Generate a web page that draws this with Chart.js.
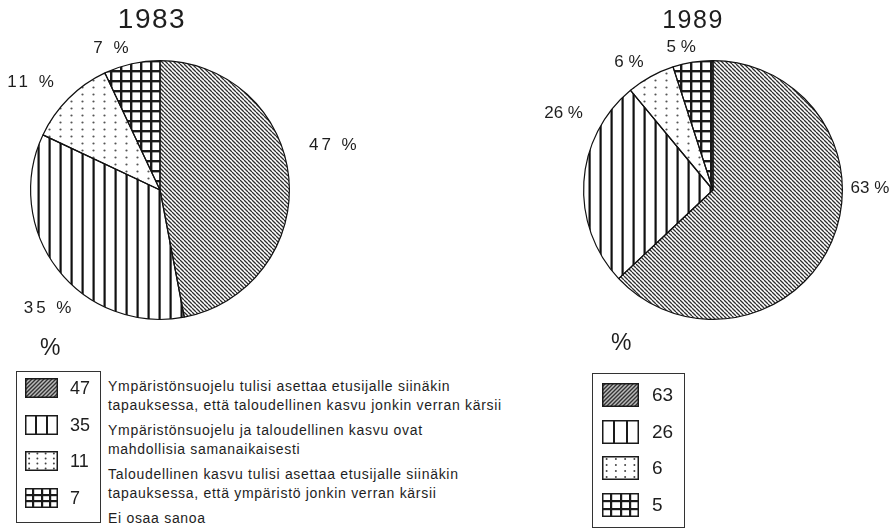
<!DOCTYPE html>
<html>
<head>
<meta charset="utf-8">
<script src="https://cdn.jsdelivr.net/npm/chart.js@4.4.1/dist/chart.umd.min.js"></script>
<style>
  body { margin: 0; background: #fff; width: 896px; height: 528px; position: relative; overflow: hidden;
         font-family: "Liberation Sans", Arial, sans-serif; color: #1e1e1e; }
  canvas { position: absolute; }
  .pct { position: absolute; font-size: 23px; line-height: 23px; }
  .box { position: absolute; border: 1px solid #333; box-sizing: border-box; }
  .val { position: absolute; }
  .desc { position: absolute; left: 108px; top: 377px; font-size: 14px; letter-spacing: 0.7px; line-height: 19px; }
  .desc div { margin-bottom: 6px; white-space: pre; }
</style>
</head>
<body>
<canvas id="pie1983" width="370" height="340" style="left:0;top:0"></canvas>
<canvas id="pie1989" width="356" height="340" style="left:540px;top:0"></canvas>

<div class="pct" style="left:40px;top:336px">%</div>
<div class="pct" style="left:611px;top:331px">%</div>
<div class="box" id="legend1983" style="left:16px;top:371px;width:85px;height:152px"></div>
<div class="box" id="legend1989" style="left:592px;top:373px;width:93px;height:155px"></div>
<div class="desc" id="desc"></div>

<script>
const years = ["1983", "1989"];
const categories = [
  "Ympäristönsuojelu tulisi asettaa etusijalle siinäkin\ntapauksessa, että taloudellinen kasvu jonkin verran kärsii",
  "Ympäristönsuojelu ja taloudellinen kasvu ovat\nmahdollisia samanaikaisesti",
  "Taloudellinen kasvu tulisi asettaa etusijalle siinäkin\ntapauksessa, että ympäristö jonkin verran kärsii",
  "Ei osaa sanoa"
];
const values1983 = [47, 35, 11, 7];
const values1989 = [63, 26, 6, 5];

// small repeating tiles for the hatch fills
function tile(w, h, draw) {
  const c = document.createElement("canvas");
  c.width = w; c.height = h;
  draw(c.getContext("2d"), w, h);
  return c;
}
const tiles = [
  tile(4, 4, (g, w, h) => {          // fine "\" hatch
    g.strokeStyle = "#2e2e2e"; g.lineWidth = 1.3;
    g.beginPath();
    for (let k = -1; k <= 1; k++) { g.moveTo(k * w, 0); g.lineTo(k * w + w, h); }
    g.stroke();
  }),
  tile(11, 4, (g, w, h) => {         // vertical bars
    g.fillStyle = "#111"; g.fillRect(4.5, 0, 2.2, h);
  }),
  tile(11, 7, (g, w, h) => {         // dots
    g.fillStyle = "#555"; g.beginPath(); g.arc(5.5, 3.5, 1.1, 0, Math.PI * 2); g.fill();
  }),
  tile(10, 10, (g, w, h) => {        // square grid
    g.fillStyle = "#1a1a1a"; g.fillRect(0, 0, 2.4, h); g.fillRect(0, 0, w, 2.4);
  })
];
const patternCtx = document.createElement("canvas").getContext("2d");
const pieFills = tiles.map(t => patternCtx.createPattern(t, "repeat"));

function drawSwatch(g, kind, w, h) {
  g.fillStyle = "#fff"; g.fillRect(0, 0, w, h);
  g.strokeStyle = "#1a1a1a"; g.fillStyle = "#1a1a1a";
  if (kind === 0) {
    g.fillStyle = "#bbb"; g.fillRect(0, 0, w, h);
    g.lineWidth = 1.4; g.strokeStyle = "#333"; g.beginPath();
    for (let x = -h; x < w + h; x += 4) { g.moveTo(x, h); g.lineTo(x + h, 0); }
    g.stroke();
  } else if (kind === 1) {
    for (let i = 1; i < 3; i++) g.fillRect(Math.round(i * w / 3) - 1, 0, 2, h);
  } else if (kind === 2) {
    g.fillStyle = "#444";
    for (let i = 0; i < 4; i++) for (let j = 0; j < 4; j++) {
      g.beginPath(); g.arc(w * (i + 0.5) / 4, h * (j + 0.5) / 4, 1, 0, Math.PI * 2); g.fill();
    }
  } else {
    for (let i = 1; i < 4; i++) g.fillRect(Math.round(i * w / 4) - 1, 0, 2.2, h);
    for (let j = 1; j < 3; j++) g.fillRect(0, Math.round(j * h / 3) - 1, w, 2.2);
  }
  g.lineWidth = 1.5; g.strokeStyle = "#1a1a1a";
  g.strokeRect(0.75, 0.75, w - 1.5, h - 1.5);
}

function buildLegend(id, values, sw, sh, x0, y0, pitch, valX, fontSize) {
  const box = document.getElementById(id);
  values.forEach((v, i) => {
    const c = document.createElement("canvas");
    c.width = sw; c.height = sh;
    c.style.left = x0 + "px"; c.style.top = (y0 + i * pitch) + "px";
    drawSwatch(c.getContext("2d"), i, sw, sh);
    box.appendChild(c);
    const s = document.createElement("div");
    s.className = "val";
    s.textContent = v;
    s.style.cssText = `left:${valX}px;top:${y0 + i * pitch}px;height:${sh}px;line-height:${sh}px;font-size:${fontSize}px`;
    box.appendChild(s);
  });
}
buildLegend("legend1983", values1983, 33, 20, 8, 6, 36.5, 53, 18);
buildLegend("legend1989", values1989, 37, 24, 9, 9, 36.7, 59, 19);

const desc = document.getElementById("desc");
categories.forEach(t => {
  const d = document.createElement("div");
  d.textContent = t;
  desc.appendChild(d);
});

// percentage labels around the pie plus the year above it
const sliceLabels = {
  id: "sliceLabels",
  afterDatasetsDraw(chart, args, opts) {
    const ctx = chart.ctx;
    const meta = chart.getDatasetMeta(0);
    const data = chart.data.datasets[0].data;
    ctx.save();
    ctx.fillStyle = "#1e1e1e";
    ctx.font = opts.font;
    ctx.letterSpacing = opts.spacing;
    ctx.textAlign = "center";
    ctx.textBaseline = "middle";
    meta.data.forEach((arc, i) => {
      const p = arc.getProps(["x", "y", "startAngle", "endAngle"]);
      const a = (p.startAngle + p.endAngle) / 2 + opts.shift[i] * Math.PI / 180;
      ctx.fillText(data[i] + " %", p.x + Math.cos(a) * opts.dist[i], p.y + Math.sin(a) * opts.dist[i]);
    });
    ctx.font = opts.titleFont;
    ctx.letterSpacing = "1.5px";
    ctx.textBaseline = "alphabetic";
    ctx.fillText(opts.title, opts.titleX, 28);
    ctx.restore();
  }
};

function createPie(canvasId, title, values, padding, labels) {
  new Chart(document.getElementById(canvasId), {
    type: "pie",
    data: {
      labels: categories,
      datasets: [{
        data: values,
        backgroundColor: pieFills,
        borderColor: "#111",
        borderWidth: 1.2
      }]
    },
    options: {
      responsive: false,
      animation: false,
      layout: { padding: padding },
      plugins: {
        legend: { display: false },
        tooltip: { enabled: false },
        sliceLabels: Object.assign({ title: title }, labels)
      }
    },
    plugins: [sliceLabels]
  });
}

createPie("pie1983", years[0], values1983, { left: 30, top: 60, right: 80, bottom: 20 }, {
  font: "17px 'Liberation Sans', Arial, sans-serif", spacing: "3px",
  shift: [-9, -9, -5, -6], dist: [180, 162, 167, 149],
  titleFont: "28px 'Liberation Sans', Arial, sans-serif", titleX: 152
});
createPie("pie1989", years[1], values1989, { left: 43, top: 60, right: 53, bottom: 20 }, {
  font: "17px 'Liberation Sans', Arial, sans-serif", spacing: "0px",
  shift: [-24, 23.6, -4.5, -3.6], dist: [157, 168, 153, 146],
  titleFont: "25px 'Liberation Sans', Arial, sans-serif", titleX: 153
});
</script>
</body>
</html>
